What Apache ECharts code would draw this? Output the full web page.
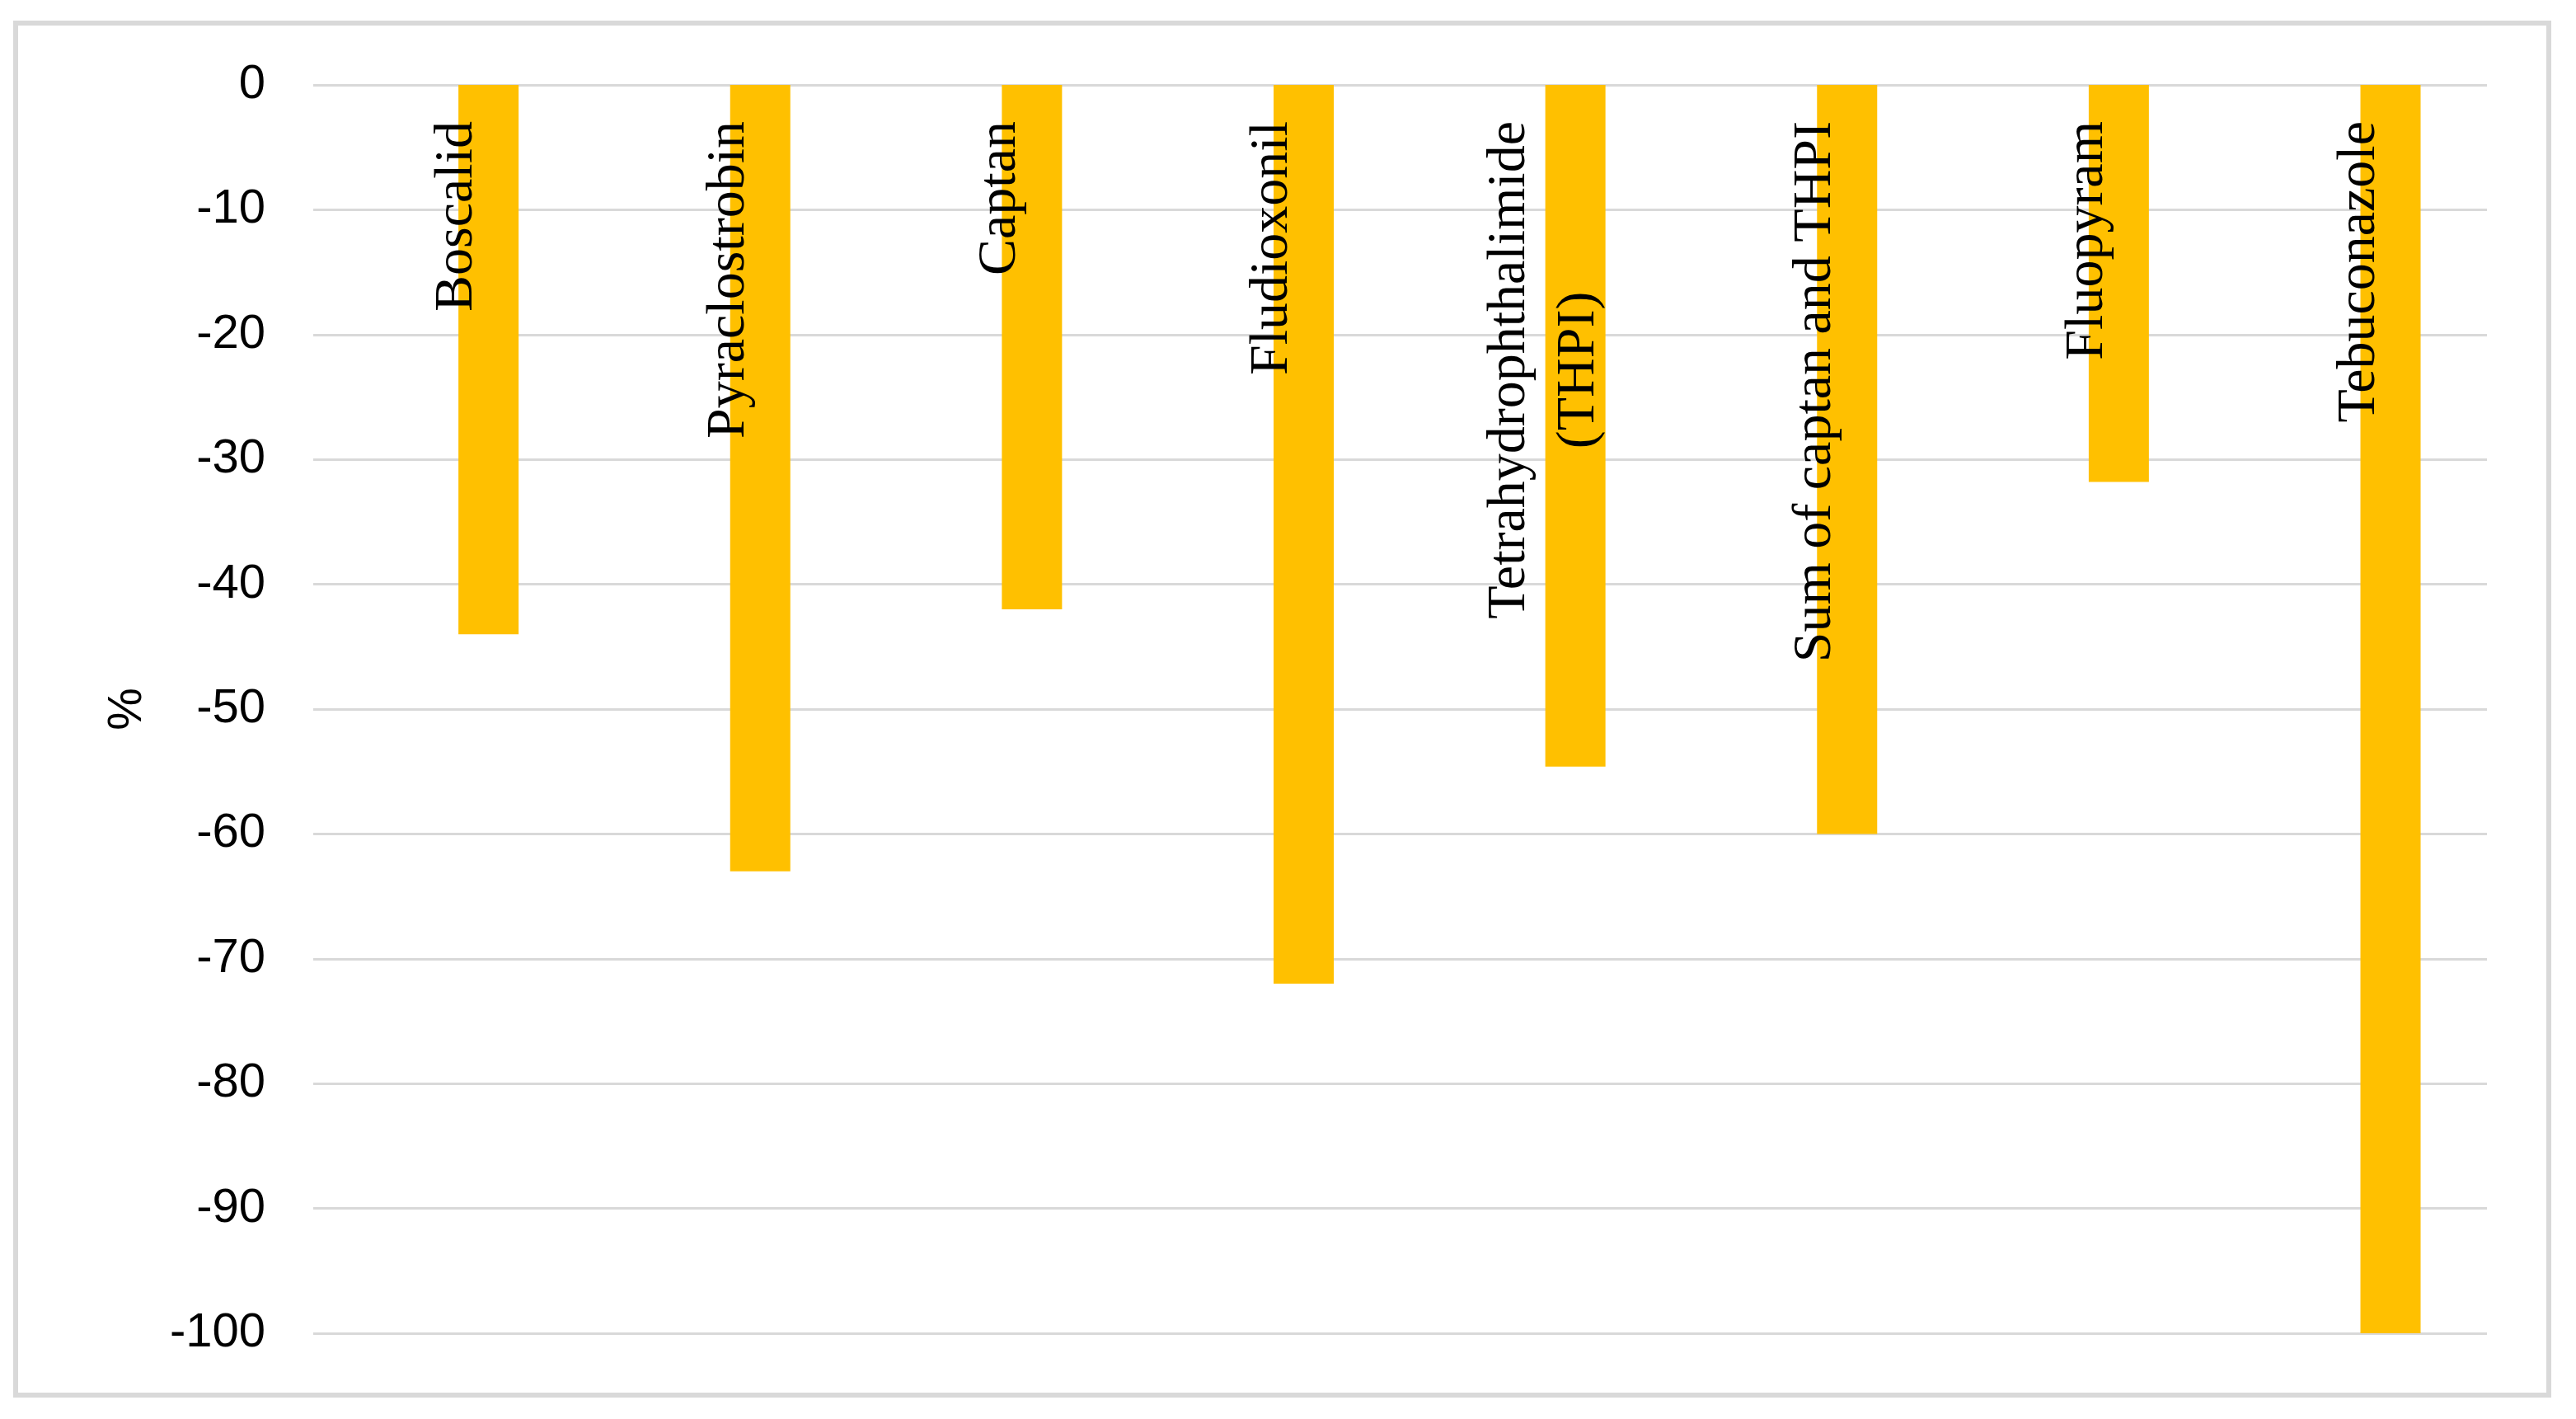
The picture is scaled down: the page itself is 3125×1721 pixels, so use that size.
<!DOCTYPE html>
<html>
<head>
<meta charset="utf-8">
<title>fungicide residue change</title>
<script src="https://cdn.jsdelivr.net/npm/echarts@6/dist/echarts.min.js"></script>
<style>
  html, body { margin: 0; padding: 0; background: #fff; }
  #chart { width: 3125px; height: 1721px; }
</style>
</head>
<body>
<div id="chart"></div>
<script>
// categories (pesticides) and % change
var categories = [
  "Boscalid",
  "Pyraclostrobin",
  "Captan",
  "Fludioxonil",
  "Tetrahydrophthalimide\n(THPI)",
  "Sum of captan and THPI",
  "Fluopyram",
  "Tebuconazole"
];
var values = [-44, -63, -42, -72, -54.6, -60, -31.8, -100];
// first series of the cluster is empty in the original, it only pushes the bars right
var blankValues = [null, null, null, null, null, null, null, null];
var yTicks = [0, -10, -20, -30, -40, -50, -60, -70, -80, -90, -100];

var serif = "'Liberation Serif', 'Times New Roman', serif";
var sans = "'Liberation Sans', Arial, sans-serif";

var myChart = echarts.init(document.getElementById("chart"));

var option = {
  animation: false,
  backgroundColor: "#fff",
  // light grey frame round the whole chart
  graphic: [
    {
      type: "rect",
      silent: true,
      shape: { x: 19, y: 28, width: 3073, height: 1664 },
      style: { fill: "none", stroke: "#d9d9d9", lineWidth: 6 }
    }
  ],
  grid: {
    left: 380,
    right: 108,
    top: 103,
    bottom: 104
  },
  xAxis: {
    type: "category",
    position: "top",
    z: 5, // names are written over the bars
    data: categories,
    axisLine: { show: false },
    axisTick: { show: false },
    axisLabel: {
      inside: true,
      rotate: 90,
      interval: 0,
      margin: 44,
      padding: [20, 0, 0, 0],
      color: "#000",
      fontFamily: serif,
      fontSize: 66,
      lineHeight: 84,
      formatter: function(v) {
        // two line label: lines centred on each other
        if (v.indexOf("\n") >= 0) {
          return v.split("\n").map(function(s) { return "{c|" + s + "}"; }).join("\n");
        }
        return v;
      },
      rich: {
        c: {
          align: "center",
          color: "#000",
          fontFamily: serif,
          fontSize: 66,
          lineHeight: 84
        }
      }
    }
  },
  yAxis: {
    type: "value",
    min: -100,
    max: 0,
    interval: 10,
    name: "%",
    nameLocation: "middle",
    nameRotate: 90,
    nameGap: 196,
    nameTextStyle: {
      color: "#000",
      fontFamily: sans,
      fontSize: 58
    },
    axisLine: { show: false },
    axisTick: { show: false },
    axisLabel: {
      margin: 58,
      color: "#000",
      fontFamily: sans,
      fontSize: 58,
      formatter: function(v) {
        return yTicks.indexOf(v) >= 0 ? String(v) : "";
      }
    },
    splitLine: {
      lineStyle: { color: "#d9d9d9", width: 3 }
    }
  },
  series: [
    {
      name: "blank",
      type: "bar",
      barWidth: 73,
      barGap: "31%",
      data: blankValues,
      itemStyle: { color: "rgba(0,0,0,0)" }
    },
    {
      name: "change",
      type: "bar",
      barWidth: 73,
      barGap: "31%",
      data: values,
      itemStyle: { color: "#ffc000" }
    }
  ]
};

myChart.setOption(option);
</script>
</body>
</html>
